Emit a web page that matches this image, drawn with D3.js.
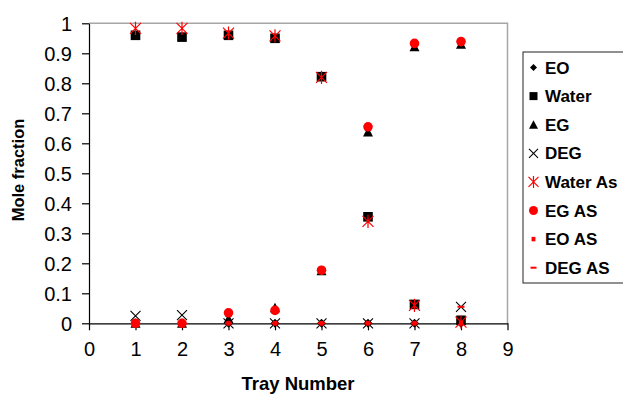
<!DOCTYPE html>
<html>
<head>
<meta charset="utf-8">
<script src="https://cdn.jsdelivr.net/npm/d3@7"></script>
<style>
  html, body { margin: 0; padding: 0; background: #fff; overflow: hidden; }
  svg { display: block; font-family: Arial, "Liberation Sans", sans-serif; }
</style>
</head>
<body>
<svg id="chart" width="623" height="394"></svg>
<script>
// Tray profile: mole fraction of each component per tray
const trays = [1, 2, 3, 4, 5, 6, 7, 8];

const eo      = [0, 0, 0, 0, 0, 0, 0, 0];
const water   = [0.96, 0.954, 0.96, 0.95, 0.822, 0.355, 0.063, 0.01];
const eg      = [0, 0, 0.015, 0.052, 0.175, 0.638, 0.922, 0.93];
const deg     = [0.025, 0.027, 0, 0, 0, 0, 0, 0.055];
const waterAS = [0.983, 0.983, 0.967, 0.958, 0.82, 0.34, 0.06, 0.004];
const egAS    = [0, 0, 0.035, 0.043, 0.177, 0.655, 0.933, 0.939];
const eoAS    = [0, 0, 0, 0, 0, 0, 0, 0];
const degAS   = [0, 0, 0, 0, 0, 0, 0, 0.055];

const seriesNames = ["EO", "Water", "EG", "DEG", "Water As", "EG AS", "EO AS", "DEG AS"];

const xTicks = [0, 1, 2, 3, 4, 5, 6, 7, 8, 9];
const yTicks = [0, 0.1, 0.2, 0.3, 0.4, 0.5, 0.6, 0.7, 0.8, 0.9, 1];
const yTickLabels = ["0", "0.1", "0.2", "0.3", "0.4", "0.5", "0.6", "0.7", "0.8", "0.9", "1"];

const svg = d3.select("#chart");

const plot = { left: 89, right: 507.5, top: 23.3, bottom: 323.3 };

const x = d3.scaleLinear().domain([0, 9]).range([plot.left, plot.right]);
const y = d3.scaleLinear().domain([0, 1]).range([plot.bottom, plot.top]);

// Marker shapes
const markers = {
  diamond: (g, s) => g.append("path")
    .attr("d", `M0,${-s}L${s},0L0,${s}L${-s},0Z`).attr("fill", "#000"),
  square: (g, s) => g.append("rect")
    .attr("x", -s).attr("y", -s).attr("width", 2 * s).attr("height", 2 * s).attr("fill", "#000"),
  triangle: (g, s) => g.append("path")
    .attr("d", `M0,${-s}L${s},${s * 0.9}L${-s},${s * 0.9}Z`).attr("fill", "#000"),
  cross: (g, s) => g.append("path")
    .attr("d", `M${-s},${-s}L${s},${s}M${-s},${s}L${s},${-s}`)
    .attr("stroke", "#000").attr("stroke-width", 1.1).attr("fill", "none"),
  star: (g, s) => g.append("path")
    .attr("d", `M${-s},${-s}L${s},${s}M${-s},${s}L${s},${-s}M0,${-s * 1.2}L0,${s * 1.2}`)
    .attr("stroke", "#ff0000").attr("stroke-width", 1.2).attr("fill", "none"),
  circle: (g, s) => g.append("circle").attr("r", s).attr("fill", "#ff0000"),
  smallSquare: (g, s) => g.append("rect")
    .attr("x", -s * 0.6).attr("y", -s * 0.7).attr("width", s * 1.2).attr("height", s * 1.4).attr("fill", "#ff0000"),
  dash: (g, s) => g.append("rect")
    .attr("x", -s).attr("y", -1).attr("width", 2 * s).attr("height", 2).attr("fill", "#ff0000")
};

const series = [
  { name: seriesNames[0], values: eo,      marker: "diamond",     size: 4.5 },
  { name: seriesNames[1], values: water,   marker: "square",      size: 4.8 },
  { name: seriesNames[2], values: eg,      marker: "triangle",    size: 5 },
  { name: seriesNames[3], values: deg,     marker: "cross",       size: 5 },
  { name: seriesNames[4], values: waterAS, marker: "star",        size: 5.5 },
  { name: seriesNames[5], values: egAS,    marker: "circle",      size: 4.8 },
  { name: seriesNames[6], values: eoAS,    marker: "smallSquare", size: 3.5 },
  { name: seriesNames[7], values: degAS,   marker: "dash",        size: 3.5 }
];

// Plot-area frame (top and right edges)
svg.append("path")
  .attr("d", `M${plot.left},${plot.top}H${plot.right}V${plot.bottom}`)
  .attr("fill", "none").attr("stroke", "#a6a6a6").attr("stroke-width", 1.5);

// Axes
const yAxis = d3.axisLeft(y).tickValues(yTicks)
  .tickFormat((d, i) => yTickLabels[i]).tickSize(7).tickSizeOuter(0).tickPadding(10);
const xAxis = d3.axisBottom(x).tickValues(xTicks)
  .tickFormat(d => String(d)).tickSize(7).tickSizeOuter(0).tickPadding(12);

const gy = svg.append("g").attr("transform", `translate(${plot.left},0)`).call(yAxis);
const gx = svg.append("g").attr("transform", `translate(0,${plot.bottom})`).call(xAxis);

[gx, gy].forEach(g => {
  g.selectAll("path.domain").attr("stroke", "#000").attr("stroke-width", 1.2);
  g.selectAll(".tick line").attr("stroke", "#000").attr("stroke-width", 1.2);
  g.selectAll(".tick text").attr("fill", "#000")
    .style("font-size", "20px").style("font-family", "Arial, 'Liberation Sans', sans-serif");
});
gy.selectAll(".tick text").attr("dy", "0.36em");

// Axis titles
svg.append("text")
  .attr("transform", "translate(24,170) rotate(-90)")
  .attr("text-anchor", "middle")
  .style("font-size", "16.5px").style("font-weight", "bold")
  .text("Mole fraction");

svg.append("text")
  .attr("x", 298).attr("y", 390)
  .attr("text-anchor", "middle")
  .style("font-size", "18.5px").style("font-weight", "bold")
  .text("Tray Number");

// Data markers, drawn series by series
series.forEach(s => {
  const g = svg.append("g").attr("class", "series");
  trays.forEach((t, i) => {
    const m = g.append("g").attr("transform", `translate(${x(t)},${y(s.values[i])})`);
    markers[s.marker](m, s.size);
  });
});

// Legend
const legend = svg.append("g").attr("transform", "translate(523,52)");
legend.append("rect")
  .attr("x", 0).attr("y", 0).attr("width", 130).attr("height", 231)
  .attr("fill", "#fff").attr("stroke", "#222").attr("stroke-width", 1);

const legendSize = { diamond: 3.5, square: 4, triangle: 4.5, cross: 4.5, star: 5, circle: 4.5, smallSquare: 3.2, dash: 3 };
series.forEach((s, i) => {
  const row = legend.append("g").attr("transform", `translate(0,${15.5 + i * 28.6})`);
  const m = row.append("g").attr("transform", "translate(10.5,0)");
  markers[s.marker](m, legendSize[s.marker]);
  row.append("text")
    .attr("x", 22).attr("y", 0).attr("dy", "0.36em")
    .style("font-size", "17px").style("font-weight", "bold")
    .text(s.name);
});
</script>
</body>
</html>
